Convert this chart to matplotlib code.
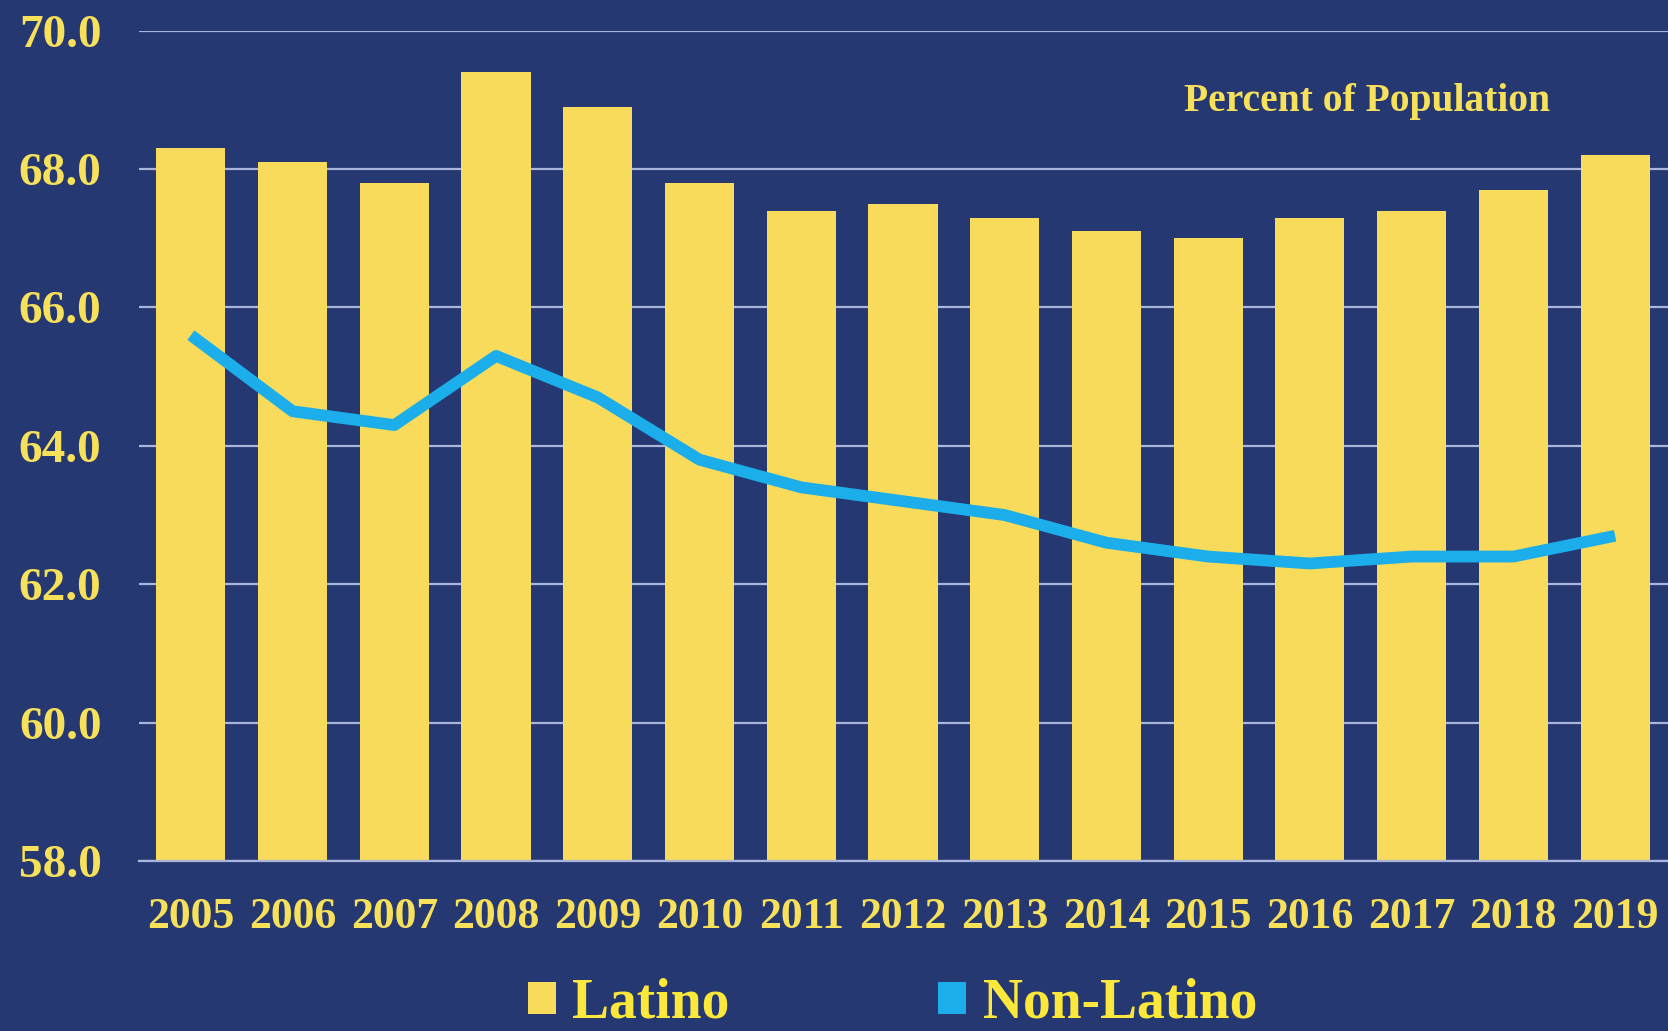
import matplotlib
matplotlib.use("Agg")
import matplotlib.pyplot as plt
from matplotlib.patches import Patch
import numpy as np

years = ["2005", "2006", "2007", "2008", "2009", "2010", "2011", "2012",
         "2013", "2014", "2015", "2016", "2017", "2018", "2019"]
latino = [68.3, 68.1, 67.8, 69.4, 68.9, 67.8, 67.4, 67.5,
          67.3, 67.1, 67.0, 67.3, 67.4, 67.7, 68.2]
non_latino = [65.6, 64.5, 64.3, 65.3, 64.7, 63.8, 63.4, 63.2,
              63.0, 62.6, 62.4, 62.3, 62.4, 62.4, 62.7]
yticks = [58.0, 60.0, 62.0, 64.0, 66.0, 68.0, 70.0]

BG = "#253872"
BAR = "#F9DB5B"
LINE = "#1BAEEA"
GRID = "#A9B5DB"
TXT = "#F7E05A"
FONT = "Liberation Serif"

fig = plt.figure(figsize=(16.68, 10.31), dpi=100, facecolor=BG)
ax = fig.add_axes([139 / 1668, 1 - 861 / 1031, 1 - 139 / 1668, (861 - 30.7) / 1031])
ax.set_facecolor(BG)

x = np.arange(len(years))
ax.bar(x, latino, width=0.68, color=BAR, zorder=2)
ax.plot(x, non_latino, color=LINE, lw=8.5, solid_joinstyle="round",
        solid_capstyle="butt", zorder=3)

ax.set_ylim(58, 70)
ax.set_xlim(-0.51, len(years) - 1 + 0.52)
ax.set_yticks(yticks)
ax.set_yticklabels([f"{v:.1f}" for v in yticks])
ax.set_xticks(x)
ax.set_xticklabels(years)
ax.yaxis.grid(True, color=GRID, lw=1.6, zorder=0)
ax.set_axisbelow(True)
for s in ["top", "right", "left"]:
    ax.spines[s].set_visible(False)
ax.spines["bottom"].set_color(GRID)
ax.spines["bottom"].set_linewidth(1.6)
ax.spines["bottom"].set_zorder(4)
ax.tick_params(axis="both", length=0, colors=TXT)
ax.tick_params(axis="y", pad=27)
ax.tick_params(axis="x", pad=26)
for lab in ax.get_yticklabels():
    lab.set_fontfamily(FONT); lab.set_fontweight("bold"); lab.set_fontsize(34)
for lab in ax.get_xticklabels():
    lab.set_fontfamily(FONT); lab.set_fontweight("bold"); lab.set_fontsize(31.5)

fig.text(1367 / 1668, 1 - 102 / 1031, "Percent of Population", color=TXT,
         fontfamily=FONT, fontweight="bold", fontsize=28.5, ha="center", va="center")

handles = [Patch(facecolor=BAR, edgecolor="none"), Patch(facecolor=LINE, edgecolor="none")]
leg = fig.legend(handles, ["Latino", "Non-Latino"], loc="lower left",
                 bbox_to_anchor=(528 / 1668, 0.001), ncol=2, frameon=False,
                 prop={"family": FONT, "weight": "bold", "size": 40},
                 handlelength=0.5, handleheight=0.5, handletextpad=0.3,
                 columnspacing=3.75, borderpad=0, borderaxespad=0)
for t in leg.get_texts():
    t.set_color("#FCE83A")

fig.savefig("out.png", dpi=100, facecolor=BG)
